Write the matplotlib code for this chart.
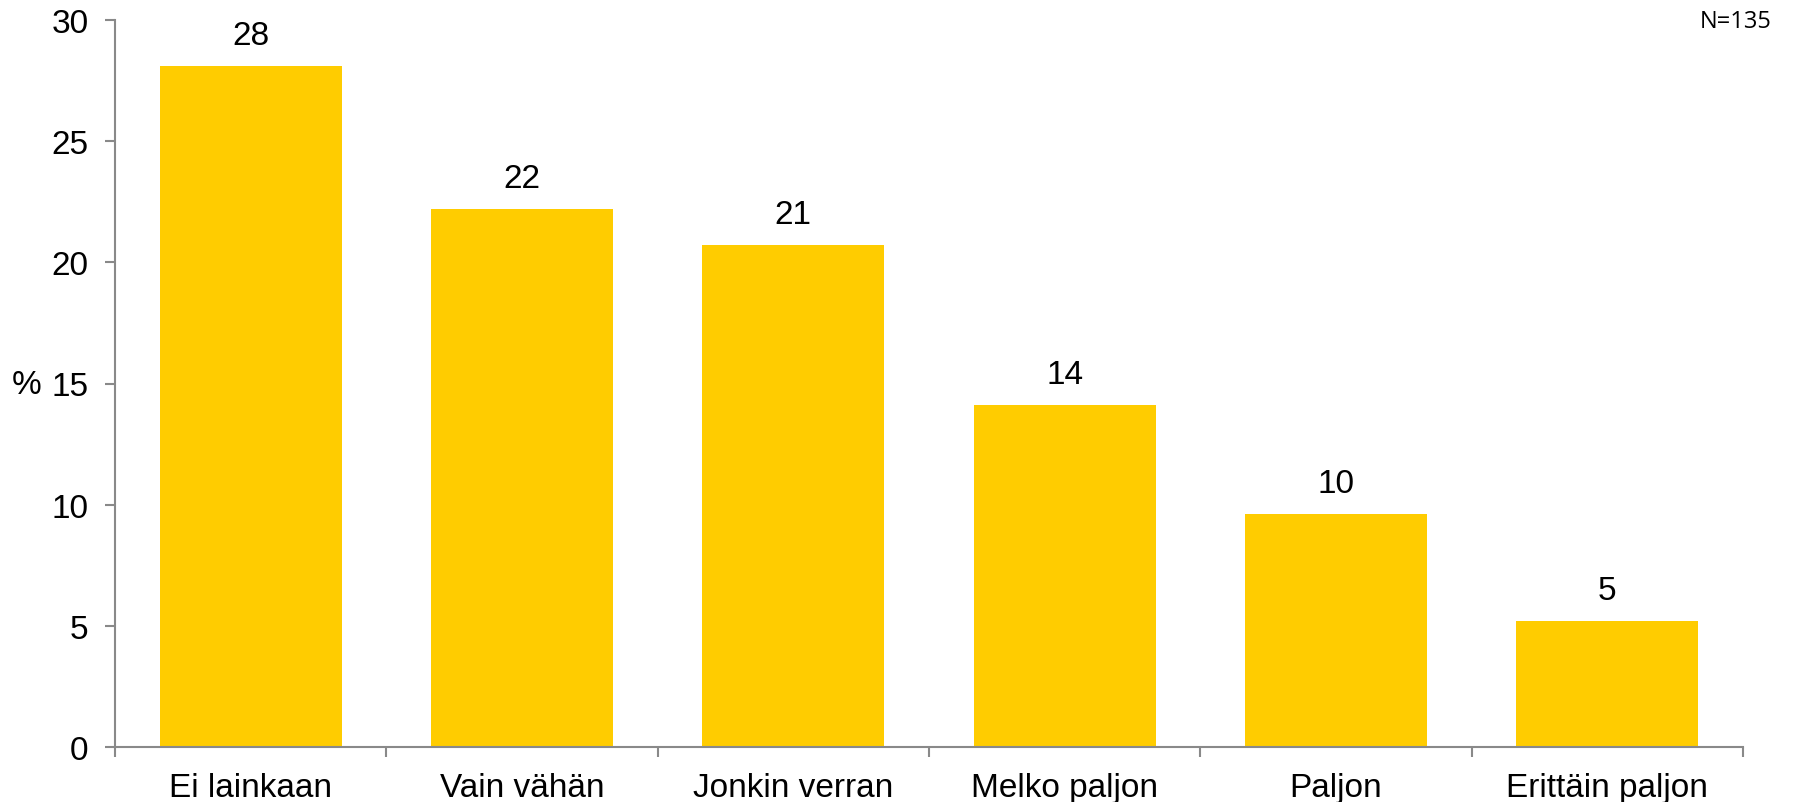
import matplotlib
matplotlib.use("Agg")
import matplotlib.pyplot as plt
import numpy as np

categories = ["Ei lainkaan", "Vain vähän", "Jonkin verran", "Melko paljon", "Paljon", "Erittäin paljon"]
values = [28.1, 22.2, 20.7, 14.1, 9.6, 5.2]
labels = ["28", "22", "21", "14", "10", "5"]
yticks = [0, 5, 10, 15, 20, 25, 30]

plt.rcParams['font.family'] = ['Liberation Sans', 'DejaVu Sans']
gray = '#898989'
fs = 24

fig = plt.figure(figsize=(18.04, 8.03), dpi=100)
ax = fig.add_axes([115/1804, 1-748/803, (1743-115)/1804, (748-21)/803])

x = np.arange(len(categories))
ax.bar(x, values, width=0.67, color='#FFCC00', zorder=2)
for xi, v, lab in zip(x, values, labels):
    ax.annotate(lab, (xi, v), xytext=(0, 11), textcoords='offset points',
                ha='center', va='bottom', fontsize=fs)

ax.set_xlim(-0.5, len(categories) - 0.5)
ax.set_ylim(0, 30)
ax.set_yticks(yticks)
ax.set_yticklabels([str(t) for t in yticks], fontsize=fs)
ax.set_xticks(np.arange(len(categories) + 1) - 0.5)
ax.set_xticklabels([])
ax.set_xticks(x, minor=True)
ax.set_xticklabels(categories, minor=True, fontsize=fs)
ax.tick_params(axis='x', which='minor', length=0, pad=18)
ax.tick_params(axis='x', which='major', length=7, width=1.5, color=gray, direction='out')
ax.tick_params(axis='y', length=7, width=1.5, color=gray, direction='out', pad=12)

for s in ['top', 'right']:
    ax.spines[s].set_visible(False)
for s in ['left', 'bottom']:
    ax.spines[s].set_color(gray)
    ax.spines[s].set_linewidth(1.5)

fig.text(12/1804, 1-386/803, '%', fontsize=fs, ha='left', va='center')
fig.text(1772/1804, 1-22/803, 'N=135', fontsize=17, ha='right', va='center',
         family=['Open Sans', 'DejaVu Sans'])

fig.savefig('out.png', dpi=100)
